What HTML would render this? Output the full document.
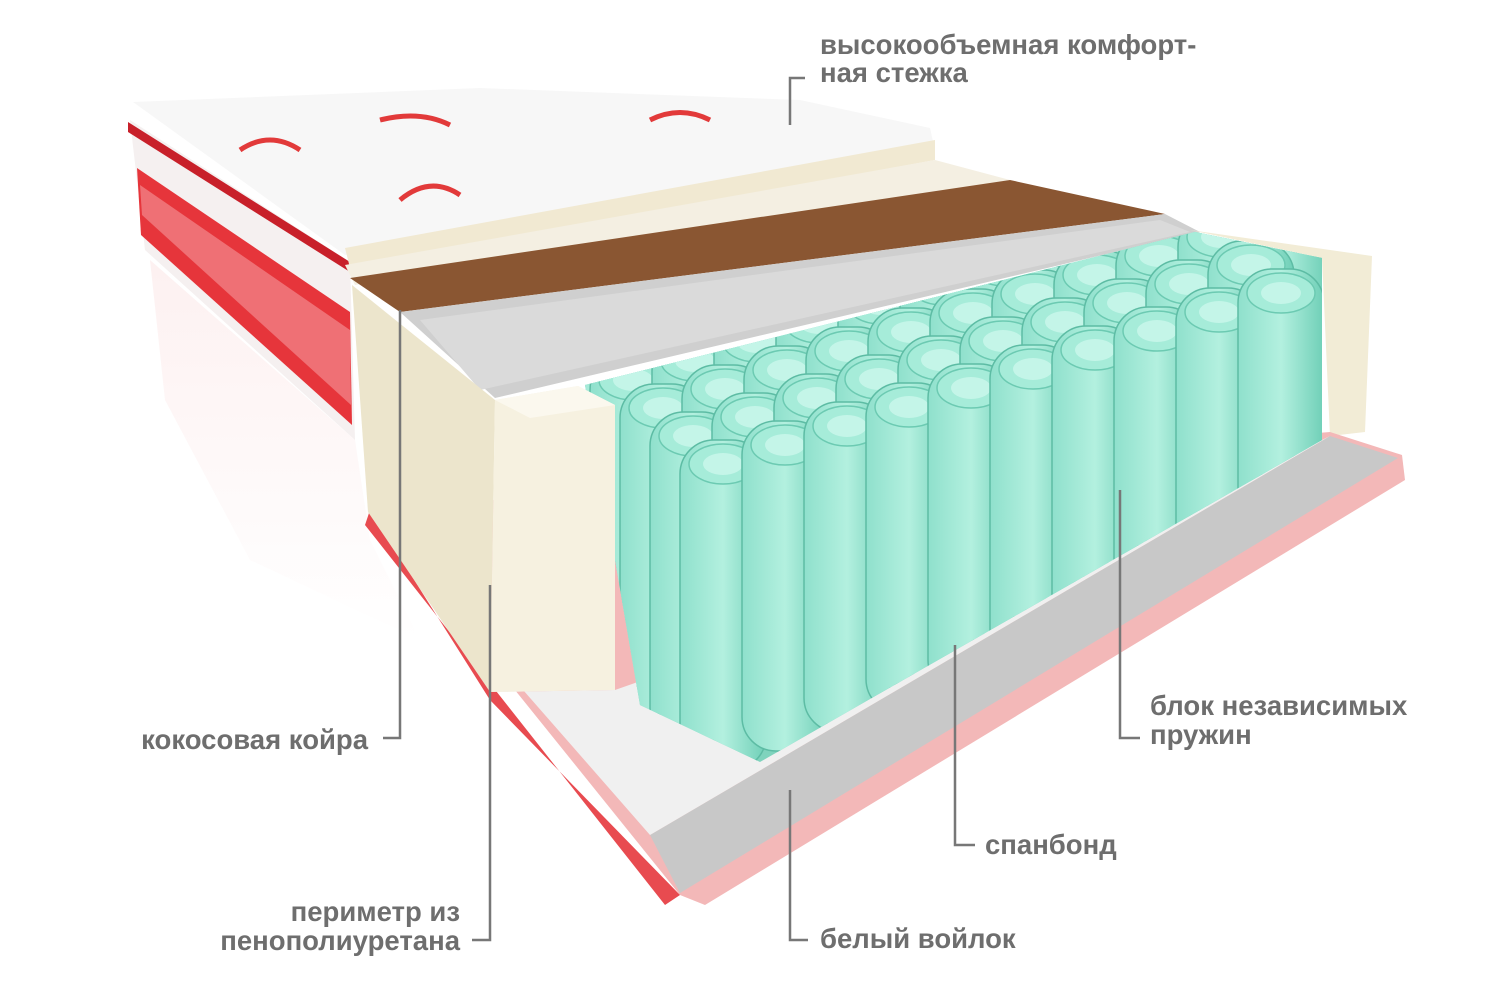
<!DOCTYPE html>
<html><head><meta charset="utf-8">
<style>
html,body{margin:0;padding:0;background:#fff;}
svg{display:block;}
.t{font-family:"Liberation Sans",sans-serif;font-weight:bold;font-size:27.5px;fill:#6e6e6e;}
.l{stroke:#777;stroke-width:2.5;fill:none;}
</style></head>
<body>
<svg width="1500" height="1000" viewBox="0 0 1500 1000" xmlns="http://www.w3.org/2000/svg">
<defs>
  <linearGradient id="refl" x1="0" y1="0" x2="0" y2="1">
    <stop offset="0" stop-color="#f9d6d6"/><stop offset="1" stop-color="#ffffff"/>
  </linearGradient>
  <linearGradient id="spr" x1="0" y1="0" x2="1" y2="0">
    <stop offset="0" stop-color="#8fe0cc"/><stop offset="0.5" stop-color="#b3f0df"/><stop offset="1" stop-color="#6fcfb7"/>
  </linearGradient>
  <g id="s">
    <rect x="0" y="0" width="86" height="330" rx="34" fill="url(#spr)" stroke="#5dbca4" stroke-width="1.5"/>
    <ellipse cx="43" cy="24" rx="34" ry="20" fill="#a6ecd9" stroke="#6ccab2" stroke-width="1.5"/>
    <ellipse cx="43" cy="24" rx="20" ry="11" fill="#c4f5e8"/>
  </g>
  <clipPath id="blk"><polygon points="585,385 1195,232 1322,258 1322,440 760,762 640,705"/></clipPath>
</defs>

<!-- reflection under left side -->
<polygon points="150,260 355,440 370,540 420,640 250,560 165,400" fill="url(#refl)" opacity="0.35"/>

<!-- left side fabric -->
<polygon points="130,120 350,262 355,440 145,250" fill="#f5f0f0"/>
<polygon points="137,168 350,312 352,425 141,235" fill="#e6353b"/>
<polygon points="140,185 350,330 351,405 142,215" fill="#ef7075"/>
<polygon points="128,122 350,262 350,272 128,132" fill="#c8202a"/>

<!-- top quilted layer -->
<polygon points="133,102 480,88 800,100 930,128 935,150 345,255" fill="#f7f7f7"/>
<polygon points="345,248 935,140 935,160 350,268" fill="#f1e9d2"/>
<path d="M240,150 q30,-20 60,0 M400,200 q30,-25 60,-5 M650,120 q30,-15 60,0 M380,120 q40,-10 70,5" stroke="#e23a3a" stroke-width="5" fill="none"/>
<polygon points="345,265 935,160 1010,180 355,285" fill="#f4efe2"/>

<!-- coir -->
<polygon points="350,278 1010,180 1165,214 400,312" fill="#8a5632"/>
<!-- grey felt -->
<polygon points="400,312 1165,214 1200,232 495,398" fill="#cfcfcf"/>
<polygon points="420,320 1160,220 1190,232 480,390" fill="#dadada"/>

<!-- right foam -->
<polygon points="1190,230 1372,256 1365,432 1330,436 1322,258" fill="#f2ecd6"/>

<!-- base: red edge, grey felt strip, white spanbond -->
<polygon points="370,510 1330,432 1402,455 1405,480 705,905 680,895" fill="#f3b8b8"/>
<polygon points="650,835 1330,436 1398,458 680,893" fill="#c8c8c8"/>
<polygon points="370,515 490,692 615,690 1322,440 1330,436 650,835" fill="#f0f0f0"/>
<polygon points="370,510 490,700 680,895 665,905 365,525" fill="#e84b50"/>

<!-- springs -->
<polygon points="585,385 1195,232 1322,258 1322,440 760,762 640,705" fill="#7fd3bd"/>
<g clip-path="url(#blk)">
  <use href="#s" x="530" y="300"/><use href="#s" x="592" y="281"/><use href="#s" x="654" y="262"/><use href="#s" x="716" y="243"/><use href="#s" x="778" y="224"/><use href="#s" x="840" y="205"/><use href="#s" x="902" y="186"/><use href="#s" x="964" y="167"/><use href="#s" x="1026" y="148"/><use href="#s" x="1088" y="129"/><use href="#s" x="1150" y="110"/><use href="#s" x="1212" y="91"/>
  <use href="#s" x="560" y="328"/><use href="#s" x="622" y="309"/><use href="#s" x="684" y="290"/><use href="#s" x="746" y="271"/><use href="#s" x="808" y="252"/><use href="#s" x="870" y="233"/><use href="#s" x="932" y="214"/><use href="#s" x="994" y="195"/><use href="#s" x="1056" y="176"/><use href="#s" x="1118" y="157"/><use href="#s" x="1180" y="138"/><use href="#s" x="1242" y="119"/>
  <use href="#s" x="590" y="356"/><use href="#s" x="652" y="337"/><use href="#s" x="714" y="318"/><use href="#s" x="776" y="299"/><use href="#s" x="838" y="280"/><use href="#s" x="900" y="261"/><use href="#s" x="962" y="242"/><use href="#s" x="1024" y="223"/><use href="#s" x="1086" y="204"/><use href="#s" x="1148" y="185"/><use href="#s" x="1210" y="166"/>
  <use href="#s" x="620" y="384"/><use href="#s" x="682" y="365"/><use href="#s" x="744" y="346"/><use href="#s" x="806" y="327"/><use href="#s" x="868" y="308"/><use href="#s" x="930" y="289"/><use href="#s" x="992" y="270"/><use href="#s" x="1054" y="251"/><use href="#s" x="1116" y="232"/><use href="#s" x="1178" y="213"/><use href="#s" x="1240" y="194"/>
  <use href="#s" x="650" y="412"/><use href="#s" x="712" y="393"/><use href="#s" x="774" y="374"/><use href="#s" x="836" y="355"/><use href="#s" x="898" y="336"/><use href="#s" x="960" y="317"/><use href="#s" x="1022" y="298"/><use href="#s" x="1084" y="279"/><use href="#s" x="1146" y="260"/><use href="#s" x="1208" y="241"/>
  <use href="#s" x="680" y="440"/><use href="#s" x="742" y="421"/><use href="#s" x="804" y="402"/><use href="#s" x="866" y="383"/><use href="#s" x="928" y="364"/><use href="#s" x="990" y="345"/><use href="#s" x="1052" y="326"/><use href="#s" x="1114" y="307"/><use href="#s" x="1176" y="288"/><use href="#s" x="1238" y="269"/>
</g>

<!-- left foam perimeter -->
<polygon points="352,285 495,400 490,692 368,512" fill="#ece5cc"/>
<polygon points="495,400 578,386 615,405 615,690 490,692" fill="#f6f1e0"/>
<polygon points="495,400 578,386 615,405 530,418" fill="#fbf8ee"/>

<!-- leader lines -->
<path class="l" d="M805,78 H790 V125"/>
<path class="l" d="M383,738 H400 V310"/>
<path class="l" d="M472,940 H490 V585"/>
<path class="l" d="M1140,738 H1120 V490"/>
<path class="l" d="M975,845 H955 V645"/>
<path class="l" d="M808,940 H790 V790"/>

<!-- labels -->
<text class="t" x="820" y="54">высокообъемная комфорт-</text>
<text class="t" x="820" y="82">ная стежка</text>
<text class="t" x="368" y="749" text-anchor="end">кокосовая койра</text>
<text class="t" x="460" y="921" text-anchor="end">периметр из</text>
<text class="t" x="460" y="950" text-anchor="end">пенополиуретана</text>
<text class="t" x="1150" y="715">блок независимых</text>
<text class="t" x="1150" y="744">пружин</text>
<text class="t" x="985" y="854">спанбонд</text>
<text class="t" x="820" y="948">белый войлок</text>
</svg>
</body></html>
